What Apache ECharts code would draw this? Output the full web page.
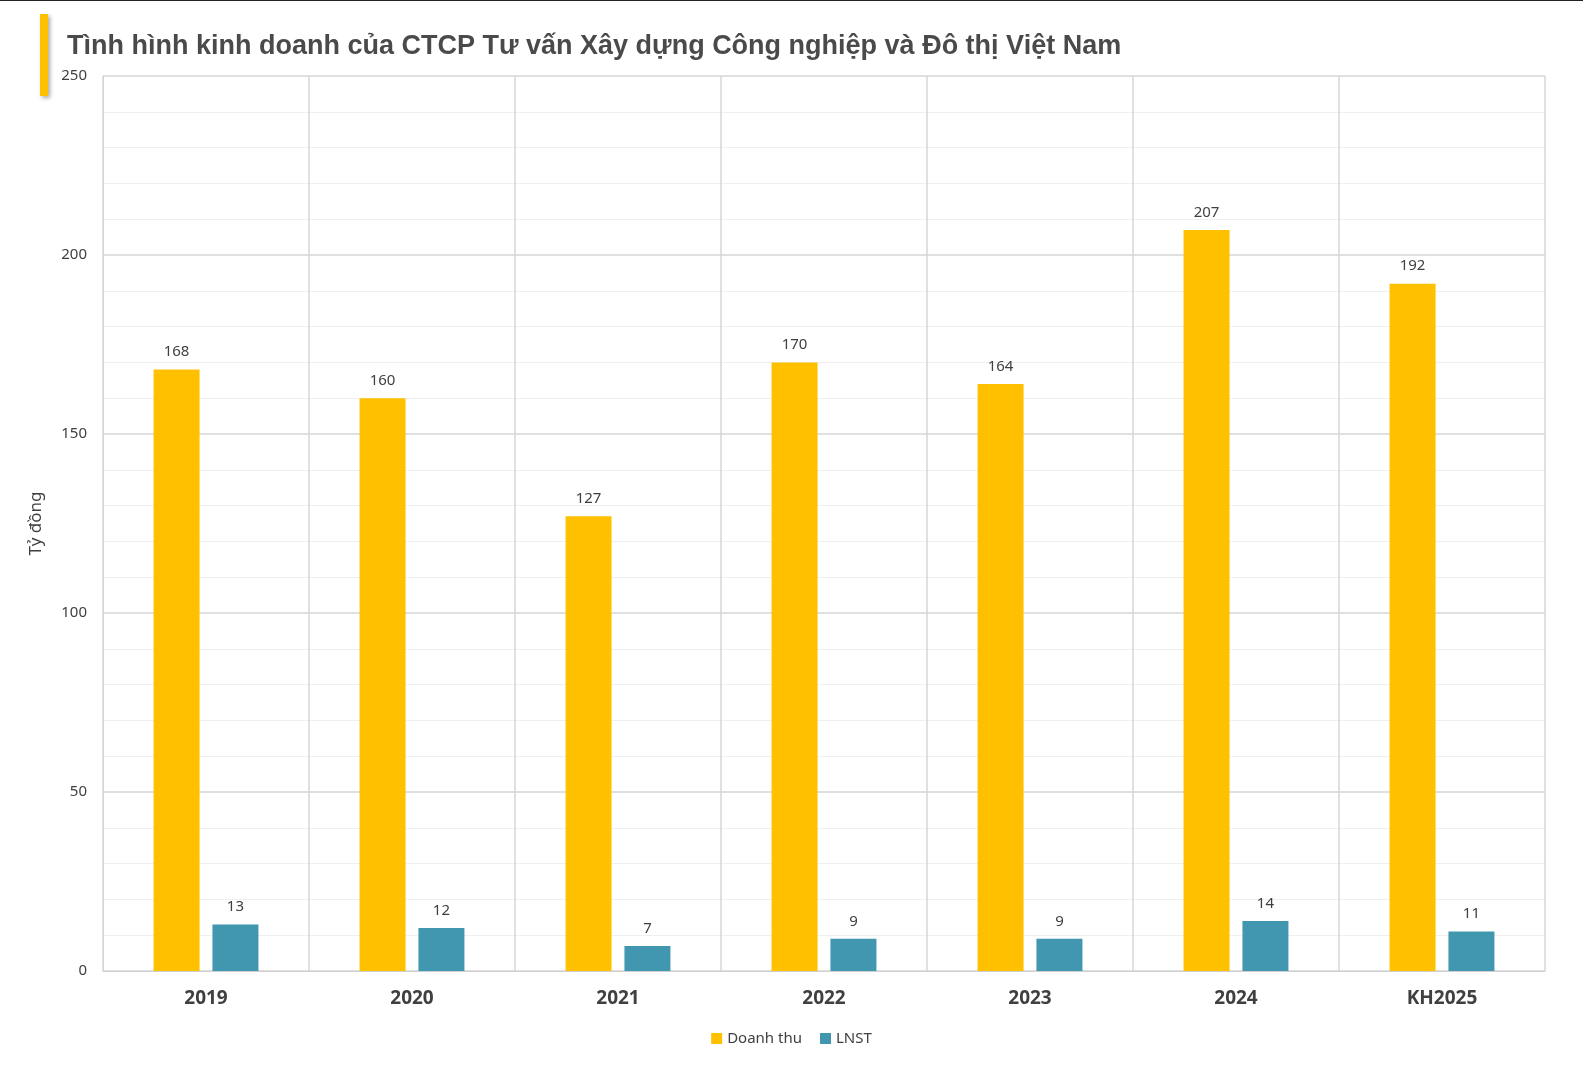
<!DOCTYPE html>
<html><head><meta charset="utf-8">
<script src="https://cdn.jsdelivr.net/npm/echarts@6/dist/echarts.min.js"></script>
<style>html,body{margin:0;padding:0;background:#fff}#c{width:1583px;height:1083px;border-top:1px solid #222;box-sizing:border-box}</style>
</head><body><div id="c"></div>
<script>
const categories=['2019','2020','2021','2022','2023','2024','KH2025'];
const doanhThu=[168,160,127,170,164,207,192];
const lnst=[13,12,7,9,9,14,11];
const chart=echarts.init(document.getElementById('c'));
chart.setOption({
  backgroundColor:'#fff',
  graphic:[{type:'rect',shape:{x:40,y:13,width:8,height:82},style:{fill:'#FFC000',shadowBlur:4,shadowColor:'rgba(0,0,0,0.35)',shadowOffsetX:2,shadowOffsetY:2}}],
  title:{text:'Tình hình kinh doanh của CTCP Tư vấn Xây dựng Công nghiệp và Đô thị Việt Nam',left:62,top:27,textStyle:{fontFamily:'Liberation Sans',fontSize:27,fontWeight:'bold',color:'#4a4a4a'}},
  grid:{left:103,right:38,top:75,bottom:112,containLabel:false},
  legend:{bottom:32,left:'center',itemWidth:11,itemHeight:11,itemGap:18,icon:'rect',textStyle:{fontFamily:'Noto Sans',fontSize:15,color:'#404040'},data:['Doanh thu','LNST']},
  xAxis:{type:'category',data:categories,axisTick:{show:false},axisLine:{lineStyle:{color:'#d0d0d0'}},
    splitLine:{show:true,lineStyle:{color:'#d6d6d6',width:1.5}},
    axisLabel:{fontFamily:'Noto Sans',fontSize:19,fontWeight:'bold',color:'#404040',margin:18}},
  yAxis:{type:'value',min:0,max:250,interval:50,name:'Tỷ đồng',nameLocation:'middle',nameGap:58,nameRotate:90,
    nameTextStyle:{fontFamily:'Noto Sans',fontSize:17,color:'#404040'},
    axisLine:{show:true,lineStyle:{color:'#d6d6d6'}},axisTick:{show:false},
    axisLabel:{fontFamily:'Noto Sans',fontSize:15,color:'#404040',margin:16},
    splitLine:{lineStyle:{color:'#d6d6d6',width:1.5}},
    minorTick:{show:false,splitNumber:5},minorSplitLine:{show:true,lineStyle:{color:'#efefef'}}},
  series:[
    {name:'Doanh thu',type:'bar',data:doanhThu,barWidth:46,barGap:'28%',itemStyle:{color:'#FFC000'},
     label:{show:true,position:'top',distance:10,fontFamily:'Noto Sans',fontSize:15,color:'#404040'}},
    {name:'LNST',type:'bar',data:lnst,barWidth:46,itemStyle:{color:'#4197B0'},
     label:{show:true,position:'top',distance:10,fontFamily:'Noto Sans',fontSize:15,color:'#404040'}}
  ]
});
</script></body></html>
